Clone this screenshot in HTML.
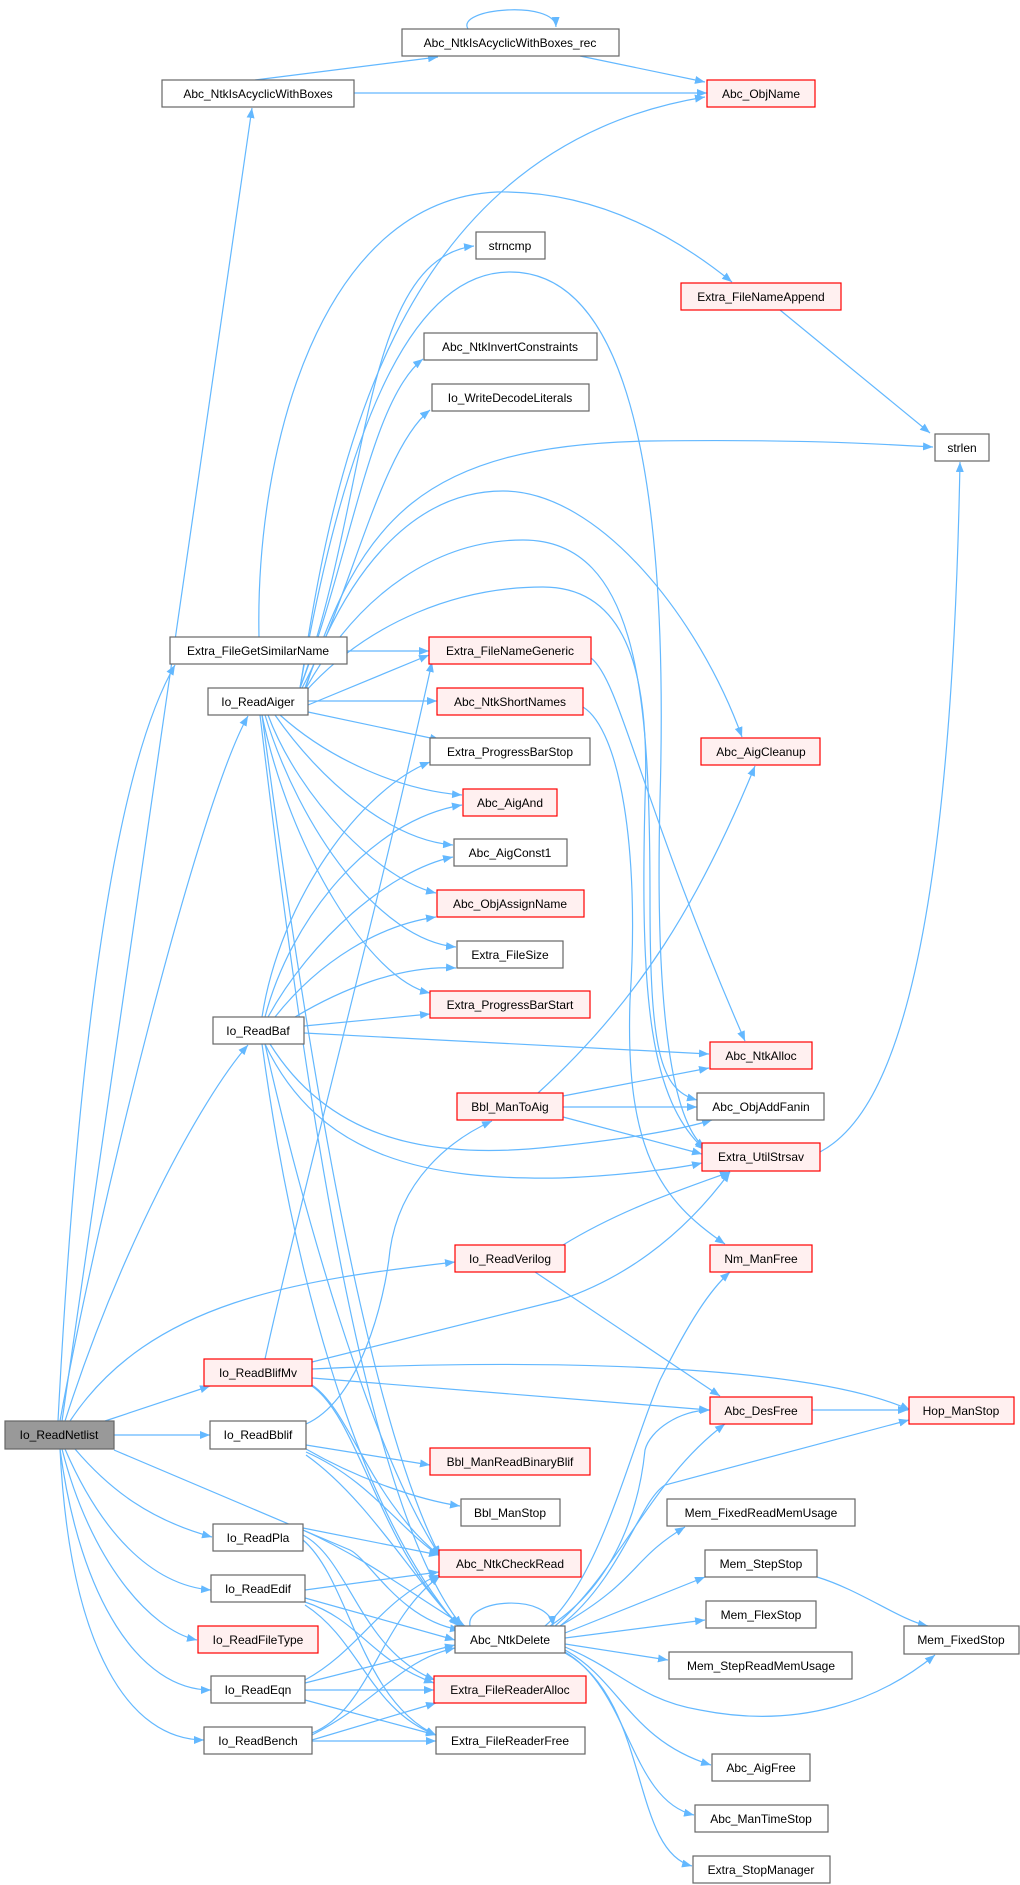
<!DOCTYPE html>
<html><head><meta charset="utf-8"><style>
html,body{margin:0;padding:0;background:#fff;}
svg{display:block;}
text{font-family:"Liberation Sans",Arial,sans-serif;font-size:12px;fill:#000;text-anchor:middle;}
.e{fill:none;stroke:#63b8ff;stroke-width:1.2;marker-end:url(#a);}
.n{fill:#fff;stroke:#666;stroke-width:1.2;}
.r{fill:#fff0f0;stroke:#f00;stroke-width:1.2;}
.g{fill:#999;stroke:#666;stroke-width:1.2;}
</style></head><body>
<svg width="1020" height="1885" viewBox="0 0 1020 1885" xmlns="http://www.w3.org/2000/svg">
<defs><marker id="a" markerUnits="userSpaceOnUse" markerWidth="10" markerHeight="8" refX="10" refY="4" orient="auto"><path d="M0,0 L10,4 L0,8 z" fill="#63b8ff"/></marker></defs>
<g>
<path class="e" d="M255,80 L438,57"/>
<path class="e" d="M354,93 L707,93"/>
<path class="e" d="M580,56 L705,82"/>
<path class="e" d="M468,29 C455,8 555,0 556,27"/>
<path class="e" d="M62,1421 L252,108"/>
<path class="e" d="M58,1421 C80,1000 120,760 175,665"/>
<path class="e" d="M60,1421 C100,1200 200,800 248,716"/>
<path class="e" d="M65,1421 C120,1250 200,1100 248,1045"/>
<path class="e" d="M70,1421 C150,1300 300,1280 455,1262"/>
<path class="e" d="M105,1421 L210,1386"/>
<path class="e" d="M114,1435 L210,1435"/>
<path class="e" d="M114,1450 L350,1550 C370,1560 400,1620 460,1630"/>
<path class="e" d="M75,1449 C110,1490 150,1520 212,1537"/>
<path class="e" d="M65,1449 C100,1530 150,1585 211,1590"/>
<path class="e" d="M62,1449 C90,1560 150,1630 197,1640"/>
<path class="e" d="M60,1449 C80,1600 140,1690 211,1690"/>
<path class="e" d="M60,1449 C70,1650 130,1740 204,1740"/>
<path class="e" d="M300,688 C370,500 360,260 474,246"/>
<path class="e" d="M300,688 C350,560 370,400 423,359"/>
<path class="e" d="M302,688 C350,600 380,450 430,410"/>
<path class="e" d="M305,690 C360,520 420,445 650,441 C800,439 880,444 933,447"/>
<path class="e" d="M300,688 C330,500 380,150 705,97"/>
<path class="e" d="M300,688 C350,400 420,272 510,272 C620,272 670,450 660,800 C655,1000 670,1120 705,1148"/>
<path class="e" d="M305,688 C350,560 420,491 503,491 C600,491 700,620 742,737"/>
<path class="e" d="M305,690 C360,590 440,540 523,540 C640,540 650,700 650,900 C650,1050 660,1090 697,1100"/>
<path class="e" d="M305,692 C370,620 460,587 543,587 C630,587 650,680 645,800 C640,1000 650,1100 705,1150"/>
<path class="e" d="M308,705 L429,655"/>
<path class="e" d="M308,701 L437,701"/>
<path class="e" d="M308,712 L440,740"/>
<path class="e" d="M280,715 C330,760 400,790 462,795"/>
<path class="e" d="M275,715 C320,780 390,840 453,845"/>
<path class="e" d="M268,715 C300,800 380,880 436,893"/>
<path class="e" d="M265,715 C300,830 380,940 456,947"/>
<path class="e" d="M262,715 C290,850 370,980 430,993"/>
<path class="e" d="M262,715 C300,1000 360,1400 440,1556"/>
<path class="e" d="M260,715 C300,1050 360,1500 462,1626"/>
<path class="e" d="M262,1017 C280,900 360,790 430,762"/>
<path class="e" d="M265,1017 C290,920 370,820 462,805"/>
<path class="e" d="M268,1017 C310,940 390,870 453,857"/>
<path class="e" d="M275,1017 C320,960 380,925 436,917"/>
<path class="e" d="M295,1017 C340,990 400,965 456,968"/>
<path class="e" d="M304,1026 L430,1014"/>
<path class="e" d="M304,1033 L709,1054"/>
<path class="e" d="M270,1044 C330,1140 430,1160 550,1147 C620,1140 680,1130 712,1120"/>
<path class="e" d="M265,1044 C320,1160 430,1180 560,1178 C620,1176 680,1168 702,1163"/>
<path class="e" d="M265,1044 C300,1200 370,1450 440,1556"/>
<path class="e" d="M262,1044 C290,1250 350,1500 458,1626"/>
<path class="e" d="M347,651 L429,651"/>
<path class="e" d="M259,637 C255,450 320,200 497,192 C600,190 680,240 732,282"/>
<path class="e" d="M780,310 L930,433"/>
<path class="e" d="M820,1152 C880,1120 950,1000 960,462"/>
<path class="e" d="M591,658 C620,680 640,800 745,1041"/>
<path class="e" d="M583,707 C620,730 640,850 630,1000 C625,1150 660,1200 725,1244"/>
<path class="e" d="M538,1093 C640,1000 700,900 755,766"/>
<path class="e" d="M563,1096 L709,1068"/>
<path class="e" d="M563,1107 L697,1107"/>
<path class="e" d="M563,1117 L702,1154"/>
<path class="e" d="M563,1245 C620,1210 680,1190 730,1172"/>
<path class="e" d="M535,1272 L720,1396"/>
<path class="e" d="M265,1359 C300,1200 380,900 432,662"/>
<path class="e" d="M312,1362 L560,1300 C620,1280 680,1240 730,1172"/>
<path class="e" d="M312,1369 C500,1360 800,1360 910,1410"/>
<path class="e" d="M312,1378 L709,1410"/>
<path class="e" d="M312,1385 C350,1410 370,1500 440,1556"/>
<path class="e" d="M312,1386 C360,1420 380,1550 460,1626"/>
<path class="e" d="M306,1424 C360,1400 385,1300 390,1250 C400,1180 450,1140 492,1121"/>
<path class="e" d="M306,1445 L430,1465"/>
<path class="e" d="M306,1449 C360,1480 420,1500 460,1506"/>
<path class="e" d="M306,1452 C370,1480 400,1530 440,1556"/>
<path class="e" d="M306,1455 C370,1500 420,1590 460,1626"/>
<path class="e" d="M303,1528 L439,1555"/>
<path class="e" d="M303,1530 C370,1560 420,1600 465,1626"/>
<path class="e" d="M303,1535 C350,1560 360,1650 435,1680"/>
<path class="e" d="M303,1540 C350,1580 360,1700 436,1735"/>
<path class="e" d="M305,1590 L439,1572"/>
<path class="e" d="M305,1598 L455,1640"/>
<path class="e" d="M305,1602 C360,1620 370,1660 434,1683"/>
<path class="e" d="M305,1605 C360,1640 370,1710 436,1735"/>
<path class="e" d="M305,1680 C360,1650 380,1600 439,1575"/>
<path class="e" d="M305,1683 L455,1645"/>
<path class="e" d="M305,1690 L434,1690"/>
<path class="e" d="M305,1700 L436,1735"/>
<path class="e" d="M312,1733 C370,1710 380,1620 440,1576"/>
<path class="e" d="M312,1735 C380,1700 400,1660 455,1648"/>
<path class="e" d="M312,1740 L436,1703"/>
<path class="e" d="M312,1741 L436,1741"/>
<path class="e" d="M470,1626 C465,1598 550,1593 553,1626"/>
<path class="e" d="M545,1626 C600,1580 630,1450 660,1380 C690,1320 710,1290 730,1272"/>
<path class="e" d="M550,1626 C620,1580 640,1500 645,1450 C650,1430 680,1410 710,1410"/>
<path class="e" d="M555,1626 C620,1570 650,1480 725,1424"/>
<path class="e" d="M560,1626 C620,1580 640,1500 665,1485 L909,1420"/>
<path class="e" d="M560,1626 C640,1580 630,1560 685,1527"/>
<path class="e" d="M565,1633 L705,1577"/>
<path class="e" d="M565,1638 L705,1620"/>
<path class="e" d="M565,1644 L668,1660"/>
<path class="e" d="M565,1647 C620,1670 640,1700 700,1710 C800,1730 880,1700 935,1655"/>
<path class="e" d="M565,1650 C620,1680 630,1740 711,1765"/>
<path class="e" d="M565,1652 C630,1690 630,1800 694,1815"/>
<path class="e" d="M565,1653 C650,1700 630,1850 692,1866"/>
<path class="e" d="M817,1577 C860,1590 900,1620 928,1626"/>
<path class="e" d="M812,1410 L908,1410"/>
</g>
<g>
<rect class="n" x="402" y="29" width="217" height="27"/><text x="510" y="47">Abc_NtkIsAcyclicWithBoxes_rec</text>
<rect class="n" x="162" y="80" width="192" height="27"/><text x="258" y="98">Abc_NtkIsAcyclicWithBoxes</text>
<rect class="r" x="707" y="80" width="108" height="27"/><text x="761" y="98">Abc_ObjName</text>
<rect class="n" x="476" y="232" width="69" height="27"/><text x="510" y="250">strncmp</text>
<rect class="r" x="681" y="283" width="160" height="27"/><text x="761" y="301">Extra_FileNameAppend</text>
<rect class="n" x="424" y="333" width="173" height="27"/><text x="510" y="351">Abc_NtkInvertConstraints</text>
<rect class="n" x="432" y="384" width="157" height="27"/><text x="510" y="402">Io_WriteDecodeLiterals</text>
<rect class="n" x="935" y="434" width="54" height="27"/><text x="962" y="452">strlen</text>
<rect class="n" x="170" y="637" width="177" height="27"/><text x="258" y="655">Extra_FileGetSimilarName</text>
<rect class="r" x="429" y="637" width="162" height="27"/><text x="510" y="655">Extra_FileNameGeneric</text>
<rect class="n" x="208" y="688" width="100" height="27"/><text x="258" y="706">Io_ReadAiger</text>
<rect class="r" x="437" y="688" width="146" height="27"/><text x="510" y="706">Abc_NtkShortNames</text>
<rect class="n" x="430" y="738" width="160" height="27"/><text x="510" y="756">Extra_ProgressBarStop</text>
<rect class="r" x="701" y="738" width="119" height="27"/><text x="761" y="756">Abc_AigCleanup</text>
<rect class="r" x="463" y="789" width="94" height="27"/><text x="510" y="807">Abc_AigAnd</text>
<rect class="n" x="454" y="839" width="113" height="27"/><text x="510" y="857">Abc_AigConst1</text>
<rect class="r" x="437" y="890" width="147" height="27"/><text x="510" y="908">Abc_ObjAssignName</text>
<rect class="n" x="457" y="941" width="106" height="27"/><text x="510" y="959">Extra_FileSize</text>
<rect class="r" x="430" y="991" width="160" height="27"/><text x="510" y="1009">Extra_ProgressBarStart</text>
<rect class="n" x="213" y="1017" width="91" height="27"/><text x="258" y="1035">Io_ReadBaf</text>
<rect class="r" x="710" y="1042" width="102" height="27"/><text x="761" y="1060">Abc_NtkAlloc</text>
<rect class="r" x="457" y="1093" width="106" height="27"/><text x="510" y="1111">Bbl_ManToAig</text>
<rect class="n" x="697" y="1093" width="127" height="27"/><text x="761" y="1111">Abc_ObjAddFanin</text>
<rect class="r" x="702" y="1143" width="118" height="28"/><text x="761" y="1161">Extra_UtilStrsav</text>
<rect class="r" x="455" y="1245" width="110" height="27"/><text x="510" y="1263">Io_ReadVerilog</text>
<rect class="r" x="710" y="1245" width="102" height="27"/><text x="761" y="1263">Nm_ManFree</text>
<rect class="r" x="204" y="1359" width="108" height="27"/><text x="258" y="1377">Io_ReadBlifMv</text>
<rect class="r" x="710" y="1397" width="102" height="27"/><text x="761" y="1415">Abc_DesFree</text>
<rect class="r" x="909" y="1397" width="105" height="27"/><text x="961" y="1415">Hop_ManStop</text>
<rect class="g" x="5" y="1421" width="109" height="28"/><text x="59" y="1439">Io_ReadNetlist</text>
<rect class="n" x="210" y="1421" width="96" height="28"/><text x="258" y="1439">Io_ReadBblif</text>
<rect class="r" x="430" y="1448" width="160" height="27"/><text x="510" y="1466">Bbl_ManReadBinaryBlif</text>
<rect class="n" x="461" y="1499" width="99" height="27"/><text x="510" y="1517">Bbl_ManStop</text>
<rect class="n" x="667" y="1499" width="188" height="27"/><text x="761" y="1517">Mem_FixedReadMemUsage</text>
<rect class="n" x="213" y="1524" width="90" height="27"/><text x="258" y="1542">Io_ReadPla</text>
<rect class="r" x="439" y="1550" width="142" height="27"/><text x="510" y="1568">Abc_NtkCheckRead</text>
<rect class="n" x="705" y="1550" width="112" height="27"/><text x="761" y="1568">Mem_StepStop</text>
<rect class="n" x="211" y="1575" width="94" height="27"/><text x="258" y="1593">Io_ReadEdif</text>
<rect class="n" x="706" y="1601" width="110" height="27"/><text x="761" y="1619">Mem_FlexStop</text>
<rect class="n" x="455" y="1626" width="110" height="27"/><text x="510" y="1644">Abc_NtkDelete</text>
<rect class="n" x="904" y="1626" width="115" height="28"/><text x="961" y="1644">Mem_FixedStop</text>
<rect class="r" x="198" y="1626" width="120" height="27"/><text x="258" y="1644">Io_ReadFileType</text>
<rect class="n" x="669" y="1652" width="183" height="27"/><text x="761" y="1670">Mem_StepReadMemUsage</text>
<rect class="n" x="211" y="1676" width="94" height="27"/><text x="258" y="1694">Io_ReadEqn</text>
<rect class="r" x="434" y="1676" width="152" height="27"/><text x="510" y="1694">Extra_FileReaderAlloc</text>
<rect class="n" x="204" y="1727" width="108" height="27"/><text x="258" y="1745">Io_ReadBench</text>
<rect class="n" x="436" y="1727" width="149" height="27"/><text x="510" y="1745">Extra_FileReaderFree</text>
<rect class="n" x="712" y="1754" width="98" height="27"/><text x="761" y="1772">Abc_AigFree</text>
<rect class="n" x="695" y="1805" width="133" height="27"/><text x="761" y="1823">Abc_ManTimeStop</text>
<rect class="n" x="693" y="1856" width="137" height="27"/><text x="761" y="1874">Extra_StopManager</text>
</g>
</svg>
</body></html>
